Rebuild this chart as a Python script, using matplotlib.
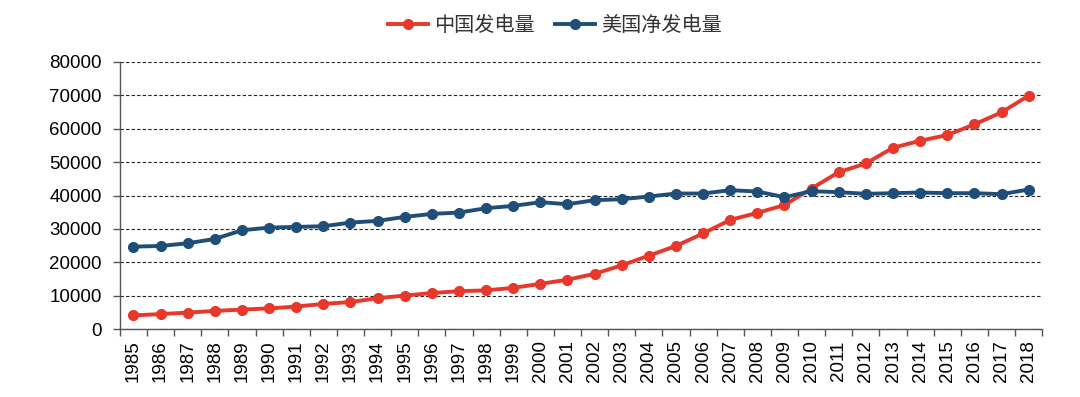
import numpy as np
import matplotlib.pyplot as plt
from matplotlib.ticker import MultipleLocator, FixedLocator

plt.rcParams['font.family'] = ['Liberation Sans', 'Noto Sans CJK SC', 'DejaVu Sans']

years = list(range(1985, 2019))
china = [4100, 4500, 4950, 5450, 5850, 6200, 6750, 7550, 8100, 9250,
         10050, 10800, 11350, 11600, 12350, 13550, 14800, 16550, 19100, 22000,
         24900, 28650, 32700, 34800, 37150, 42100, 47000, 49600, 54300, 56400,
         58100, 61300, 64900, 69900]
usa = [24700, 24900, 25700, 27000, 29600, 30400, 30600, 30800, 31900, 32400,
       33600, 34500, 34900, 36200, 36900, 38000, 37400, 38600, 38900, 39700,
       40600, 40600, 41600, 41200, 39500, 41300, 41000, 40500, 40700, 40900,
       40700, 40700, 40400, 41800]

red = '#e8372b'
blue = '#1f4e79'

fig = plt.figure(figsize=(10.8, 3.97), dpi=100)
ax = fig.add_axes([0.111, 0.171, 0.854, 0.673])

x = np.arange(len(years))
ax.plot(x, china, color=red, lw=2.8, marker='o', ms=7, label='中国发电量')
ax.plot(x, usa, color=blue, lw=2.8, marker='o', ms=7, label='美国净发电量')

ax.set_xlim(-0.5, len(years) - 0.5)
ax.set_ylim(0, 80000)
ax.yaxis.set_major_locator(MultipleLocator(10000))
ax.grid(axis='y', linestyle=(0, (3, 2)), color='#222222', lw=0.8)
ax.set_axisbelow(True)

ax.set_xticks(x)
ax.set_xticklabels([str(y) for y in years], rotation=90, fontsize=13.5)
ax.xaxis.set_minor_locator(FixedLocator(np.arange(-0.5, len(years), 1)))
ax.tick_params(axis='x', which='major', length=0, pad=8)
ax.tick_params(axis='x', which='minor', length=5, width=1, color='#555555')
ax.tick_params(axis='y', labelsize=13.5, length=5, width=1, color='#555555', pad=8)

for s in ['top', 'right']:
    ax.spines[s].set_visible(False)
for s in ['left', 'bottom']:
    ax.spines[s].set_color('#555555')
    ax.spines[s].set_linewidth(1)

leg = fig.legend(loc='center', bbox_to_anchor=(0.514, 0.935), ncol=2, frameon=False,
                 prop={'family': ['Noto Sans CJK SC'], 'size': 14.5}, handlelength=2,
                 columnspacing=1.0, handletextpad=0.3)
for t in leg.get_texts():
    t.set_color('#333333')

fig.savefig('out.png', dpi=100)
